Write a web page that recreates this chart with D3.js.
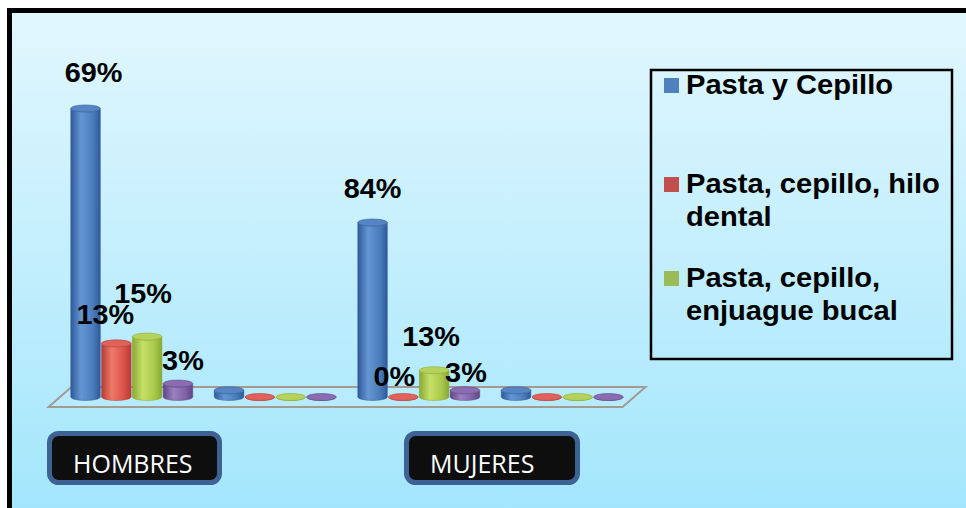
<!DOCTYPE html>
<html>
<head>
<meta charset="utf-8">
<script src="https://cdn.jsdelivr.net/npm/d3@7"></script>
<style>
  html, body { margin: 0; padding: 0; background: #ffffff; }
  svg { display: block; }
</style>
</head>
<body>
<svg id="chart" width="966" height="508"></svg>
<script>
// Categories along the floor (the 2nd and 4th slots are unnamed spacers)
const categories = ["HOMBRES", "", "MUJERES", ""];
const categoryKeys = ["c1", "c2", "c3", "c4"];

// Series (the fourth one has no legend entry)
const seriesNames = [
  "Pasta y Cepillo",
  "Pasta, cepillo, hilo dental",
  "Pasta, cepillo, enjuague bucal",
  "Serie 4"
];

// Counts per category for each series
const pastaCepillo   = [43, 1, 26, 1];
const hiloDental     = [8, 0, 0, 0];
const enjuagueBucal  = [9, 0, 4, 0];
const serie4         = [2, 0, 1, 0];

// Categories whose bars carry percentage labels
const labelledCategories = [0, 2];

// Legend lines (wrapped as drawn)
const legendLines = [
  ["Pasta y Cepillo"],
  ["Pasta, cepillo, hilo", "dental"],
  ["Pasta, cepillo,", "enjuague bucal"]
];

// ---- styling / layout ----
const palette = [
  { base: "#4a7cbb", dark: "#30599a", light: "#6596d4", top: "#5585c2" },
  { base: "#d9534a", dark: "#b63b35", light: "#ee7a68", top: "#e0625a" },
  { base: "#a9c94c", dark: "#88a933", light: "#c6e067", top: "#b5d35a" },
  { base: "#7f62a6", dark: "#5f4486", light: "#9b80c0", top: "#8a6db0" }
];
const legendSwatch = ["#4f81bd", "#c0504d", "#9bbb59"];

// label nudges per [category][series] relative to the bar's top centre
const labelNudge = {
  0: [[8, -23], [-11, -16], [-4, -30], [5, -10]],
  2: [[0, -21], [-9, -8], [-3, -21], [1, -5]]
};

const svg = d3.select("#chart");
const W = 966, H = 508;

const defs = svg.append("defs");
const bg = defs.append("linearGradient").attr("id", "bgGrad")
  .attr("x1", 0).attr("y1", 0).attr("x2", 0).attr("y2", 1);
bg.append("stop").attr("offset", "0%").attr("stop-color", "#e2f7fe");
bg.append("stop").attr("offset", "100%").attr("stop-color", "#a2e6fc");

palette.forEach((c, i) => {
  const g = defs.append("linearGradient").attr("id", "cyl" + i)
    .attr("x1", 0).attr("y1", 0).attr("x2", 1).attr("y2", 0);
  g.append("stop").attr("offset", "0%").attr("stop-color", c.dark);
  g.append("stop").attr("offset", "35%").attr("stop-color", c.light);
  g.append("stop").attr("offset", "75%").attr("stop-color", c.base);
  g.append("stop").attr("offset", "100%").attr("stop-color", c.dark);
});

// Frame and background
svg.append("rect")
  .attr("x", 9.5).attr("y", 10.5)
  .attr("width", W).attr("height", H)
  .attr("fill", "url(#bgGrad)")
  .attr("stroke", "#000").attr("stroke-width", 5);

// ---- scales ----
const floorY = 397;      // floor mid-depth line
const depthX = 11.5;     // half depth offset (x)
const depthY = 10;       // half depth offset (y)

const x0 = d3.scaleBand()
  .domain(categoryKeys)
  .range([60, 634])
  .paddingInner(0.15)
  .paddingOuter(0.075);

const x1 = d3.scaleBand()
  .domain(d3.range(seriesNames.length))
  .range([0, x0.bandwidth()])
  .paddingInner(0.04);

const y = d3.scaleLinear()
  .domain([0, 45])
  .range([floorY, floorY - 302]);

const seriesValues = [pastaCepillo, hiloDental, enjuagueBucal, serie4];

// ---- floor ----
const [fx0, fx1] = x0.range();
svg.append("path")
  .attr("d", `M${fx0 - depthX},${floorY + depthY} L${fx0 + depthX},${floorY - depthY} ` +
             `L${fx1 + depthX},${floorY - depthY} L${fx1 - depthX},${floorY + depthY} Z`)
  .attr("fill", "rgba(255,255,255,0.08)")
  .attr("stroke", "#a39a92")
  .attr("stroke-width", 2);

// ---- cylinders ----
const ry = 3.5;
const bars = [];
categoryKeys.forEach((k, ci) => {
  seriesValues.forEach((vals, si) => {
    const v = vals[ci];
    const cx = x0(k) + x1(si) + x1.bandwidth() / 2;
    bars.push({ ci, si, v, cx, rx: x1.bandwidth() / 2, yTop: y(v), yBot: y(0) });
  });
});

const gBars = svg.append("g");
const bar = gBars.selectAll("g.bar").data(bars).join("g").attr("class", "bar");

bar.append("path")
  .attr("d", d => {
    const l = d.cx - d.rx, r = d.cx + d.rx;
    return `M${l},${d.yTop} L${l},${d.yBot} A${d.rx},${ry} 0 0 0 ${r},${d.yBot} ` +
           `L${r},${d.yTop} A${d.rx},${ry} 0 0 1 ${l},${d.yTop} Z`;
  })
  .attr("fill", d => `url(#cyl${d.si})`)
  .attr("stroke", d => palette[d.si].dark)
  .attr("stroke-width", 0.8)
  .attr("stroke-opacity", 0.6);

bar.append("ellipse")
  .attr("cx", d => d.cx)
  .attr("cy", d => d.yTop)
  .attr("rx", d => d.rx)
  .attr("ry", ry)
  .attr("fill", d => palette[d.si].top)
  .attr("stroke", d => palette[d.si].dark)
  .attr("stroke-width", 0.8)
  .attr("stroke-opacity", 0.7);

// ---- percentage labels ----
const pct = d3.format(".0%");
const labelData = bars.filter(d => labelledCategories.includes(d.ci)).map(d => {
  const total = d3.sum(seriesValues, s => s[d.ci]);
  const [dx, dy] = labelNudge[d.ci][d.si];
  return { ...d, text: pct(d.v / total), lx: d.cx + dx, ly: d.yTop - ry + dy };
});

svg.append("g").selectAll("text").data(labelData).join("text")
  .attr("transform", d => `translate(${d.lx},${d.ly}) scale(1.03,1)`)
  .attr("text-anchor", "middle")
  .attr("font-family", "'Liberation Sans', Arial, sans-serif")
  .attr("font-weight", "bold")
  .attr("font-size", 28)
  .attr("fill", "#000")
  .text(d => d.text);

// ---- category tags ----
const tagLeft = [49.5, 406.5];
const tags = labelledCategories.map((ci, i) => ({ name: categories[ci], x: tagLeft[i] }));
const gTag = svg.append("g").selectAll("g").data(tags).join("g");
gTag.append("rect")
  .attr("x", d => d.x).attr("y", 433.5)
  .attr("width", (d, i) => i === 0 ? 170 : 171).attr("height", 49)
  .attr("rx", 9)
  .attr("fill", "#0e0e0e")
  .attr("stroke", "#3d6294")
  .attr("stroke-width", 5);
gTag.append("text")
  .attr("x", d => d.x + 23.5)
  .attr("y", 473)
  .attr("font-family", "'Open Sans', sans-serif")
  .attr("font-size", 25)
  .attr("fill", "#ffffff")
  .text(d => d.name);

// ---- legend ----
const legend = svg.append("g");
legend.append("rect")
  .attr("x", 651).attr("y", 70)
  .attr("width", 301).attr("height", 289)
  .attr("fill", "none")
  .attr("stroke", "#000")
  .attr("stroke-width", 2.5);

const legendBase = [94, 193, 287];
const item = legend.selectAll("g.item").data(legendLines).join("g").attr("class", "item");
item.append("rect")
  .attr("x", 664)
  .attr("y", (d, i) => legendBase[i] - 16)
  .attr("width", 15).attr("height", 15)
  .attr("fill", (d, i) => legendSwatch[i]);
item.append("text")
  .attr("transform", "translate(686,0) scale(1.04,1)")
  .attr("font-family", "'Liberation Sans', Arial, sans-serif")
  .attr("font-weight", "bold")
  .attr("font-size", 28)
  .attr("fill", "#000")
  .selectAll("tspan").data((d, i) => d.map((t, j) => ({ t, i, j }))).join("tspan")
  .attr("x", 0)
  .attr("y", d => legendBase[d.i] + d.j * 33.5)
  .text(d => d.t);
</script>
</body>
</html>
